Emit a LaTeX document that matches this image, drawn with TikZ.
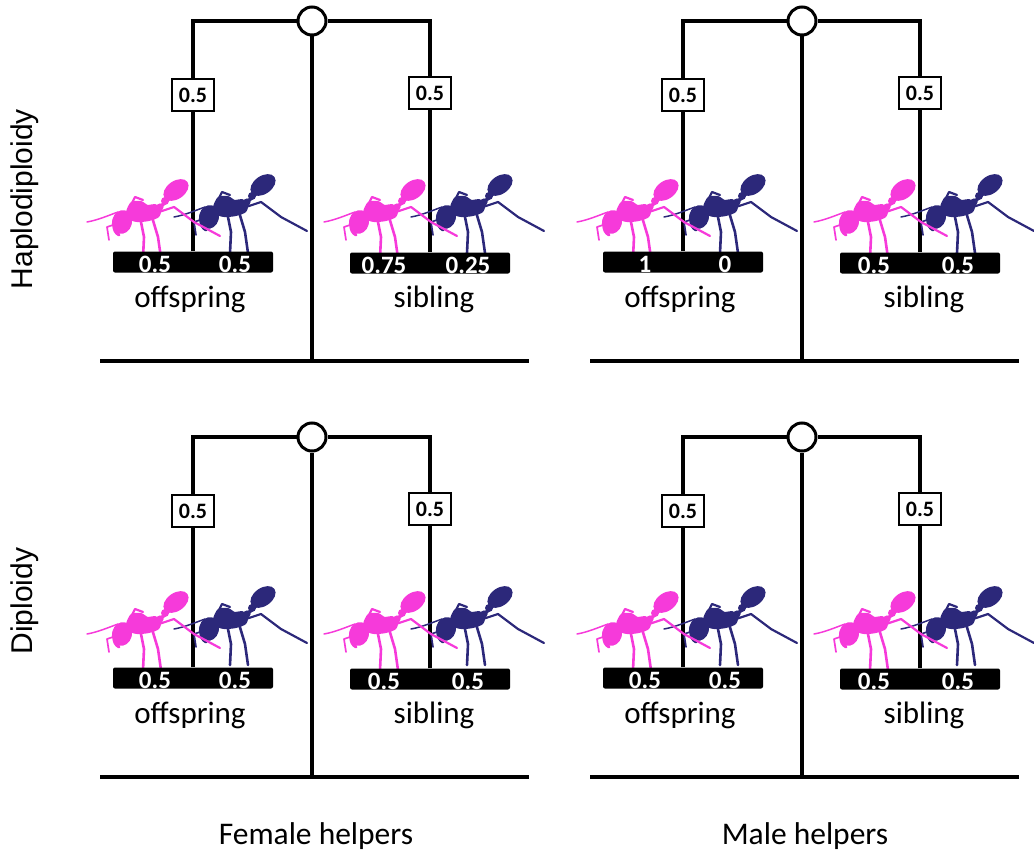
\documentclass[tikz,border=0pt]{standalone}
\usepackage{fontspec}
\setmainfont{Carlito}
\newfontfamily\sidefont{Liberation Sans}
\definecolor{antpink}{RGB}{246,58,218}
\definecolor{antblue}{RGB}{44,40,122}
\pgfdeclarelayer{lines}
\pgfdeclarelayer{ants}
\pgfsetlayers{lines,ants,main}

% silhouette of an ant facing left, origin at the thorax
\newcommand\antfig[1]{%
  \begin{scope}[fill=#1, draw=#1, line cap=round, line join=round]
    % gaster and waist
    \fill[rotate around={35:(32,-22)}] (32,-22) ellipse (14 and 9);
    \fill (21,-11) circle (4);
    \fill (16,-5) circle (3.6);
    \draw[line width=3.4pt] (28,-16) -- (13,-2);
    % thorax
    \fill plot[smooth cycle] coordinates {(-18,0) (-13,-10) (-3,-11) (4,-7) (11,-8) (17,-3) (15,5) (5,9) (-7,10) (-16,7)};
    % head and mandibles
    \fill[rotate around={-15:(-22,10)}] (-22,10) ellipse (10 and 12);
    \draw[line width=3pt] (-30,14) to[bend right] (-25,23);
    % antennae
    \draw[line width=1.5pt] (-26,0) .. controls (-37,4) and (-46,8) .. (-57,10);
    \draw[line width=1.7pt] (-28,12) -- (-37,15) -- (-35,28);
    % legs
    \draw[line width=2.6pt] (-4,5) -- (0,25) -- (-1,46);
    \draw[line width=2.6pt] (8,5) -- (14,25) -- (17,46);
    \draw[line width=2.2pt] (12,1) -- (30,-5) -- (50,10) -- (76,24);
    \draw[line width=2.2pt] (-14,-5) -- (-9,-15) -- (-1,-12);
  \end{scope}}

\tikzset{
  beam/.style={line width=3.2pt, line join=miter},
  ground/.style={line width=3.6pt},
  pivot/.style={circle, draw, fill=white, line width=3pt, minimum size=28pt, inner sep=0pt},
  wbox/.style={draw, fill=white, line width=2.5pt, minimum width=42pt, minimum height=32pt, inner sep=0pt, font=\fontsize{22}{26}\selectfont\bfseries},
  bar/.style={fill=black, rounded corners=2pt, minimum width=160pt, minimum height=21pt, inner sep=0pt},
  barnum/.style={text=white, inner sep=0pt, font=\fontsize{25}{28}\selectfont\bfseries},
  kind/.style={font=\fontsize{31}{36}\selectfont},
  helper/.style={font=\fontsize{31.5}{36}\selectfont},
  side/.style={rotate=90, font=\sidefont\fontsize{30}{36}\selectfont}
}

% one balance: #1 prefix, #2/#3 shift, #4-#7 bar values, #8 vertical shift of the ants
\newcommand\balance[8]{%
  \begin{scope}[shift={(#2,#3)}]
    \node[pivot] (#1c) at (312,21) {};
    \node[bar] (#1lb) at (193,262) {};
    \node[bar] (#1rb) at (430,263) {};
    \node[barnum] (#1l1) at (155,264) {#4};
    \node[barnum] (#1l2) at (235,264) {#5};
    \node[barnum] (#1r1) at (384,265) {#6};
    \node[barnum] (#1r2) at (468,265) {#7};
    \node[wbox] (#1lw) at (193,95) {0.5};
    \node[wbox] (#1rw) at (430,93) {0.5};
    \coordinate (#1b) at (312,361);
    \coordinate (#1bl) at (100,361);
    \coordinate (#1br) at (529,361);
    \node[kind] (#1off) at (190,299) {offspring};
    \node[kind] (#1sib) at (434,299) {sibling};
    \begin{pgfonlayer}{lines}
      \draw[beam] (#1lb.north) |- (#1c.west);
      \draw[beam] (#1rb.north) |- (#1c.east);
      \draw[beam] (#1c.south) -- (#1b);
      \draw[ground] (#1bl) -- (#1br);
    \end{pgfonlayer}
    \begin{pgfonlayer}{ants}
      \begin{scope}[shift={(231,207+#8)}]\antfig{antblue}\end{scope}
      \begin{scope}[shift={(144,212+#8)}]\antfig{antpink}\end{scope}
      \begin{scope}[shift={(468,207+#8)}]\antfig{antblue}\end{scope}
      \begin{scope}[shift={(381,212+#8)}]\antfig{antpink}\end{scope}
    \end{pgfonlayer}
  \end{scope}}

\begin{document}
\begin{tikzpicture}[x=1pt, y=-1pt]
  \useasboundingbox (0,0) rectangle (1034,859);

  \balance{hf}{0}{0}{0.5}{0.5}{0.75}{0.25}{0}
  \balance{hm}{490}{0}{1}{0}{0.5}{0.5}{0}
  \balance{df}{0}{416}{0.5}{0.5}{0.5}{0.5}{-4}
  \balance{dm}{490}{416}{0.5}{0.5}{0.5}{0.5}{-4}

  \node[side] (hap) at (25,199) {Haplodiploidy};
  \node[side] (dip) at (25,601) {Diploidy};
  \node[helper] (fem) at (316,836) {Female helpers};
  \node[helper] (mal) at (805,836) {Male helpers};
\end{tikzpicture}
\end{document}
